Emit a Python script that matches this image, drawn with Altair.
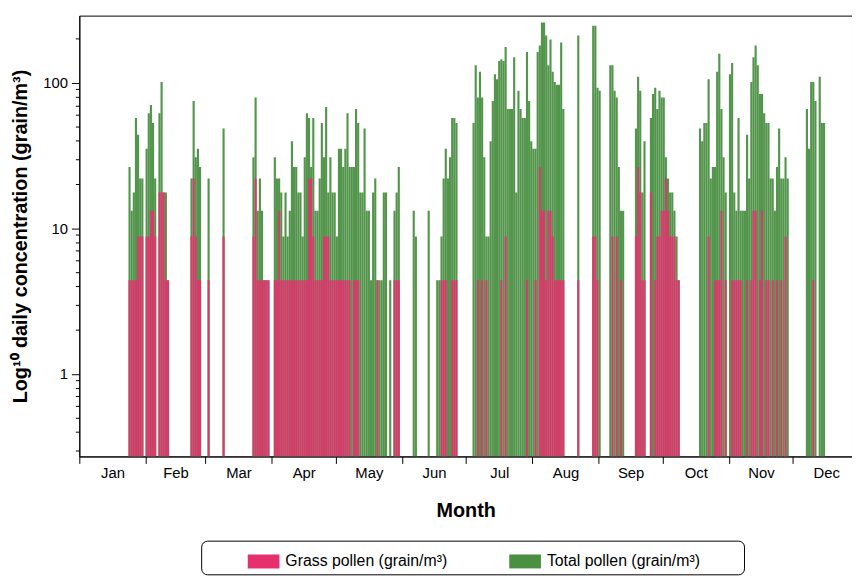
import altair as alt
import pandas as pd

# ---- data (day of year, grains/m3) ----
days = [24, 25, 26, 27, 28, 29, 30, 32, 33, 34, 35, 36, 38, 39, 40, 41, 42,
        53, 54, 55, 56, 57, 61, 68,
        82, 83, 84, 85, 86, 87, 88, 89,
        92, 93, 94, 95, 96, 97, 98, 99, 100, 101, 102, 103, 104, 105, 106, 107,
        108, 109, 110, 111, 112, 113, 114, 115, 116, 117, 118, 119, 120, 121,
        122, 123, 124, 125, 126, 127, 128, 129, 130, 131, 132, 133, 134, 135,
        136, 137, 138, 139, 140, 141, 142, 143, 144, 146, 148, 149, 150,
        157, 158, 164, 168, 169, 170, 171, 172, 173, 174, 175, 176, 177,
        185, 186, 187, 188, 189, 190, 191, 192, 193, 194, 195, 196, 197, 198,
        199, 200, 201, 202, 203, 204, 205, 206, 207, 208, 209, 210, 211, 212,
        213, 214, 215, 216, 217, 218, 219, 220, 221, 222, 223, 224, 225, 226,
        227, 234, 241, 242, 243, 244,
        249, 250, 251, 252, 253, 254, 255, 261, 262, 263, 264, 265,
        268, 269, 270, 271, 272, 273, 274, 275, 276, 277, 278, 279, 280, 281,
        291, 292, 293, 294, 295, 296, 297, 298, 299, 300, 301, 302, 303,
        305, 306, 307, 308, 309, 310, 311, 312, 313, 314, 315, 316, 317, 318,
        319, 320, 321, 322, 323, 324, 325, 326, 327, 328, 329, 330, 331, 332,
        341, 342, 343, 344, 345, 347, 348, 349]

total_pollen = [26.4, 13.2, 17.6, 57.2, 44.0, 22.0, 22.0, 35.2, 61.6, 70.4, 52.8, 22.0, 61.6, 101.2, 17.6, 17.6, 4.4,
                22.0, 74.8, 30.8, 35.2, 26.4, 22.0, 48.4,
                30.8, 79.2, 13.2, 22.0, 13.2, 4.4, 4.4, 4.4,
                30.8, 22.0, 22.0, 17.6, 8.8, 17.6, 8.8, 13.2, 39.6, 26.4, 26.4, 17.6, 17.6, 8.8, 30.8, 61.6,
                57.2, 26.4, 57.2, 13.2, 13.2, 22.0, 52.8, 30.8, 68.2, 17.6, 30.8, 17.6, 17.6, 8.8,
                35.2, 35.2, 26.4, 35.2, 61.6, 26.4, 26.4, 26.4, 66.0, 52.8, 17.6, 17.6, 48.4, 13.2,
                13.2, 4.4, 17.6, 22.0, 4.4, 4.4, 4.4, 17.6, 17.6, 4.4, 13.2, 17.6, 26.4,
                13.2, 8.8, 13.2, 4.4, 4.4, 8.8, 22.0, 35.2, 22.0, 30.8, 57.2, 57.2, 52.8,
                52.8, 132.0, 79.2, 118.8, 79.2, 30.8, 8.8, 8.8, 39.6, 74.8, 114.4, 105.6, 140.8, 145.2,
                140.8, 176.0, 66.0, 66.0, 66.0, 149.6, 17.6, 88.0, 66.0, 57.2, 57.2, 162.8, 74.8, 39.6,
                35.2, 35.2, 162.8, 180.4, 259.6, 259.6, 211.2, 132.0, 198.0, 118.8, 101.2, 96.8, 96.8, 189.2,
                66.0, 211.2, 246.4, 246.4, 92.4, 88.0,
                132.0, 132.0, 88.0, 79.2, 26.4, 13.2, 13.2, 48.4, 110.0, 88.0, 17.6, 39.6,
                57.2, 83.6, 92.4, 66.0, 88.0, 79.2, 79.2, 30.8, 22.0, 17.6, 17.6, 13.2, 8.8, 4.4,
                48.4, 39.6, 52.8, 52.8, 105.6, 22.0, 26.4, 26.4, 118.8, 158.4, 66.0, 30.8, 17.6,
                114.4, 136.4, 17.6, 13.2, 57.2, 13.2, 13.2, 13.2, 44.0, 22.0, 101.2, 149.6, 180.4, 132.0,
                83.6, 83.6, 61.6, 52.8, 52.8, 22.0, 22.0, 13.2, 26.4, 48.4, 22.0, 22.0, 30.8, 22.0,
                66.0, 35.2, 101.2, 101.2, 74.8, 110.0, 52.8, 52.8]

grass_pollen = [4.4, 4.4, 4.4, 4.4, 8.8, 8.8, 8.8, 8.8, 8.8, 13.2, 13.2, 8.8, 17.6, 17.6, 17.6, 4.4, 4.4,
                8.8, 22.0, 8.8, 4.4, 4.4, 4.4, 8.8,
                8.8, 22.0, 4.4, 4.4, 4.4, 4.4, 4.4, 4.4,
                4.4, 4.4, 13.2, 4.4, 4.4, 4.4, 4.4, 4.4, 4.4, 4.4, 4.4, 4.4, 4.4, 4.4, 4.4, 4.4,
                22.0, 22.0, 8.8, 4.4, 4.4, 4.4, 4.4, 8.8, 8.8, 8.8, 4.4, 4.4, 4.4, 4.4,
                4.4, 4.4, 4.4, 4.4, 4.4, 4.4, 0, 4.4, 4.4, 4.4, 0, 0, 0, 0,
                0, 0, 0, 0, 4.4, 0, 0, 0, 0, 0, 4.4, 4.4, 4.4,
                0, 0, 0, 0, 0, 4.4, 4.4, 4.4, 0, 0, 4.4, 4.4, 4.4,
                0, 0, 4.4, 0, 4.4, 0, 4.4, 0, 0, 0, 0, 0, 0, 4.4,
                0, 8.8, 0, 0, 0, 0, 0, 0, 0, 0, 0, 4.4, 0, 0,
                0, 4.4, 0, 26.4, 13.2, 13.2, 4.4, 13.2, 13.2, 8.8, 4.4, 4.4, 4.4, 4.4,
                4.4, 4.4, 8.8, 8.8, 4.4, 0,
                0, 8.8, 0, 8.8, 0, 4.4, 0, 8.8, 26.4, 17.6, 4.4, 4.4,
                17.6, 0, 4.4, 8.8, 8.8, 13.2, 13.2, 22.0, 13.2, 8.8, 8.8, 8.8, 4.4, 4.4,
                0, 0, 0, 0, 8.8, 0, 0, 4.4, 4.4, 4.4, 13.2, 0, 4.4,
                0, 4.4, 4.4, 4.4, 4.4, 4.4, 0, 0, 4.4, 0, 4.4, 13.2, 13.2, 0,
                4.4, 13.2, 0, 4.4, 4.4, 0, 4.4, 0, 4.4, 0, 4.4, 0, 8.8, 0,
                0, 0, 0, 4.4, 0, 0, 0, 0]

GRASS = "Grass pollen (grain/m³)"
TOTAL = "Total pollen (grain/m³)"

month_names = ["Jan", "Feb", "Mar", "Apr", "May", "Jun",
               "Jul", "Aug", "Sep", "Oct", "Nov", "Dec"]
month_start = [0, 31, 59, 90, 120, 151, 181, 212, 243, 273, 304, 334]
month_mid = [15.5, 45, 74.5, 105, 135.5, 166, 196.5, 227.5, 258, 288.5, 319, 349.5]

y_min, y_max = 0.271, 289
y_major = [1, 10, 100]
y_minor = [0.3, 0.4, 0.5, 0.6, 0.7, 0.8, 0.9,
           2, 3, 4, 5, 6, 7, 8, 9,
           20, 30, 40, 50, 60, 70, 80, 90, 200]

# ---- long table ----
df = pd.DataFrame({
    "day": days + days,
    "series": [TOTAL] * len(days) + [GRASS] * len(days),
    "value": total_pollen + grass_pollen,
})
df = df[df["value"] > 0]

FONT = "Liberation Sans"

mid_list = "[" + ",".join(str(m) for m in month_mid) + "]"
name_list = "[" + ",".join("'" + n + "'" for n in month_names) + "]"
x_label_expr = (f"indexof({mid_list}, datum.value) >= 0 ? "
                f"{name_list}[indexof({mid_list}, datum.value)] : ''")
x_mid_test = f"indexof({mid_list}, datum.value) >= 0"

major_test = "datum.value == 1 || datum.value == 10 || datum.value == 100"
y_label_expr = ("datum.value == 1 ? '1' : datum.value == 10 ? '10' : "
                "datum.value == 100 ? '100' : ''")

x_enc = alt.X(
    "x0:Q",
    scale=alt.Scale(domain=[0, 361.6], nice=False, zero=False),
    title="Month",
    axis=alt.Axis(
        values=sorted(month_start + month_mid),
        labelExpr=x_label_expr,
        tickOpacity={"condition": {"test": x_mid_test, "value": 0}, "value": 1},
        tickSize=7,
        labelPadding=2,
        labelFontSize=15,
        labelFlush=False,
        labelOverlap=False,
        titleFontSize=20,
        titleFontWeight="bold",
        titlePadding=21,
        grid=False,
    ),
)

y_enc = alt.Y(
    "value:Q",
    scale=alt.Scale(type="log", domain=[y_min, y_max], nice=False),
    title="Log¹⁰ daily concentration (grain/m³)",
    axis=alt.Axis(
        values=sorted(y_major + y_minor),
        labelExpr=y_label_expr,
        tickSize={"condition": {"test": major_test, "value": 8}, "value": 4},
        labelPadding=4,
        labelFontSize=15,
        labelOverlap=False,
        titleFontSize=20,
        titleFontWeight="bold",
        titlePadding=12,
        grid=False,
    ),
)

color_enc = alt.Color(
    "series:N",
    scale=alt.Scale(domain=[GRASS, TOTAL], range=["#e6306e", "#4a8f42"]),
    legend=alt.Legend(
        orient="none",
        legendX=123,
        legendY=530,
        direction="horizontal",
        columns=2,
        title=" ",
        titleOrient="right",
        titlePadding=39,
        symbolType="M-1,-0.44H1V0.44H-1Z",
        symbolSize=1024,
        symbolOpacity=1,
        symbolStrokeWidth=0,
        symbolOffset=42,
        labelFontSize=16,
        labelFont=FONT,
        labelColor="black",
        labelOffset=6,
        labelLimit=400,
        columnPadding=20,
        padding=5,
        strokeColor="black",
        cornerRadius=6,
        fillColor="white",
    ),
)

base = alt.Chart(df).transform_calculate(
    x0="datum.day - 1", x1="datum.day", base=str(y_min)
)

total_layer = base.transform_filter(f"datum.series == '{TOTAL}'").mark_bar(
    opacity=0.95, clip=True
).encode(x=x_enc, x2="x1:Q", y=y_enc, y2="base:Q", color=color_enc)

grass_layer = base.transform_filter(f"datum.series == '{GRASS}'").mark_bar(
    opacity=0.85, clip=True
).encode(x=x_enc, x2="x1:Q", y=y_enc, y2="base:Q", color=color_enc)

chart = (
    alt.layer(total_layer, grass_layer)
    .properties(
        width=780,
        height=445,
        autosize=alt.AutoSizeParams(type="none"),
        padding={"left": 72, "top": 5, "right": 0, "bottom": 119},
    )
    .configure(font=FONT)
    .configure_view(stroke="black", strokeWidth=1)
    .configure_axis(domainColor="black", tickColor="black", labelColor="black",
                    titleColor="black", labelFont=FONT, titleFont=FONT)
)

chart.save("out.html", embed_options={"renderer": "svg", "actions": False})
